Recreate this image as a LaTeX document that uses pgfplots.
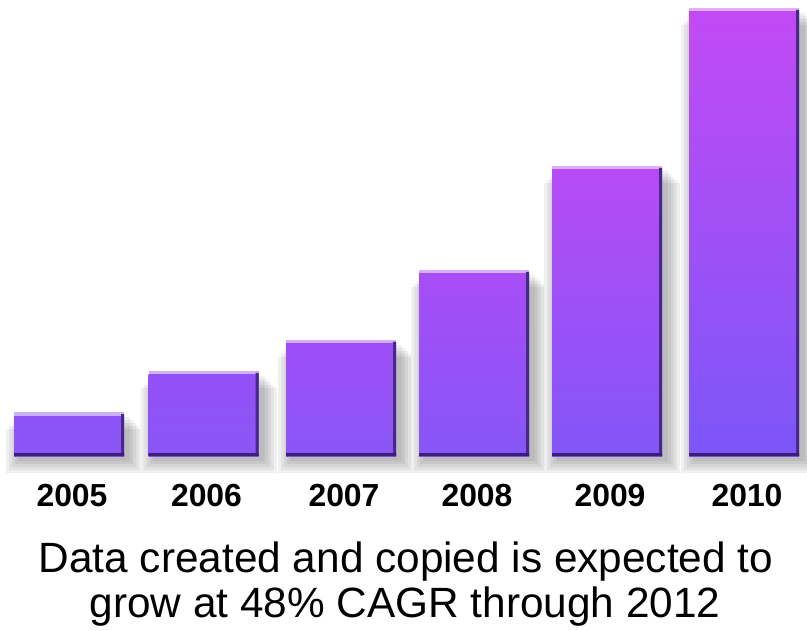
\documentclass[border=0pt]{standalone}
\usepackage{pgfplots}
\pgfplotsset{compat=1.18}
\usepackage{fontspec}
\setmainfont{Liberation Sans}
\definecolor{t05}{RGB}{141,83,246}
\definecolor{t06}{RGB}{147,80,246}
\definecolor{t07}{RGB}{157,77,246}
\definecolor{t08}{RGB}{167,77,246}
\definecolor{t09}{RGB}{182,75,246}
\definecolor{t10}{RGB}{194,74,245}
\definecolor{bb05}{RGB}{139,86,246}
\definecolor{bb06}{RGB}{138,86,246}
\definecolor{bb07}{RGB}{137,86,246}
\definecolor{bb08}{RGB}{134,86,247}
\definecolor{bb09}{RGB}{130,86,247}
\definecolor{bb10}{RGB}{124,86,247}
\definecolor{edgedark}{RGB}{72,40,140}
\definecolor{edgebot}{RGB}{58,30,120}
\pgfplotstableread{
x h
69 44
203.5 85
341 116
474 186
607 290
744 448
}\bars
\pgfplotsset{
  shadowbar/.style={ybar, bar shift=5bp, draw=none, fill=black, opacity=0.06},
  lightbar/.style={ybar, bar shift=0pt, bar width=110bp, draw=none, fill=#1!45!white},
  mainbar/.style 2 args={ybar, bar shift=0pt, bar width=110bp, draw=none, top color=#1, bottom color=#2},
}
\begin{document}
\begin{tikzpicture}
\useasboundingbox (0,-175bp) rectangle (807bp,456bp);
\begin{axis}[
  at={(0,0)}, anchor=south west,
  scale only axis, width=807bp, height=456bp,
  xmin=0, xmax=807, ymin=0, ymax=456,
  axis line style={draw=none}, tick style={draw=none}, major tick length=0pt,
  ytick=\empty,
  xtick={69,203.5,341,474,607,744},
  xticklabels={2005,2006,2007,2008,2009,2010},
  xticklabel style={font=\bfseries\fontsize{32}{32}\selectfont, anchor=base, yshift=-50bp, xshift=3bp, inner sep=0pt},
  clip=false,
]
% soft shadow layers
\addplot[shadowbar, bar width=112bp, yshift=-5bp] table[x=x,y=h] {\bars};
\addplot[shadowbar, bar width=118bp, yshift=-8bp] table[x=x,y=h] {\bars};
\addplot[shadowbar, bar width=124bp, yshift=-11bp] table[x=x,y=h] {\bars};
\addplot[shadowbar, bar width=130bp, yshift=-14bp] table[x=x,y=h] {\bars};
\addplot[shadowbar, bar width=136bp, yshift=-17bp] table[x=x,y=h] {\bars};
% light top edges
\addplot[lightbar=t05] coordinates {(69,44)};
\addplot[lightbar=t06] coordinates {(203.5,85)};
\addplot[lightbar=t07] coordinates {(341,116)};
\addplot[lightbar=t08] coordinates {(474,186)};
\addplot[lightbar=t09] coordinates {(607,290)};
\addplot[lightbar=t10] coordinates {(744,448)};
% bar faces
\addplot[mainbar={t05}{bb05}] coordinates {(69,40)};
\addplot[mainbar={t06}{bb06}] coordinates {(203.5,81)};
\addplot[mainbar={t07}{bb07}] coordinates {(341,112)};
\addplot[mainbar={t08}{bb08}] coordinates {(474,182)};
\addplot[mainbar={t09}{bb09}] coordinates {(607,286)};
\addplot[mainbar={t10}{bb10}] coordinates {(744,444)};
% dark right edges
\addplot[ybar, bar shift=53.5bp, bar width=3bp, draw=none, fill=edgedark] coordinates {(69,42) (203.5,83) (341,114) (474,184) (607,288) (744,446)};
% dark bottom edges
\addplot[ybar, bar shift=0pt, bar width=110bp, draw=none, fill=edgebot] coordinates {(69,3) (203.5,3) (341,3) (474,3) (607,3) (744,3)};
\end{axis}
\node[anchor=base, inner sep=0pt, font=\fontsize{42.5}{42.5}\selectfont] at (406bp,-116bp) {Data created and copied is expected to};
\node[anchor=base, inner sep=0pt, font=\fontsize{42.5}{42.5}\selectfont] at (405bp,-161bp) {grow at 48\% CAGR through 2012};
\end{tikzpicture}
\end{document}
